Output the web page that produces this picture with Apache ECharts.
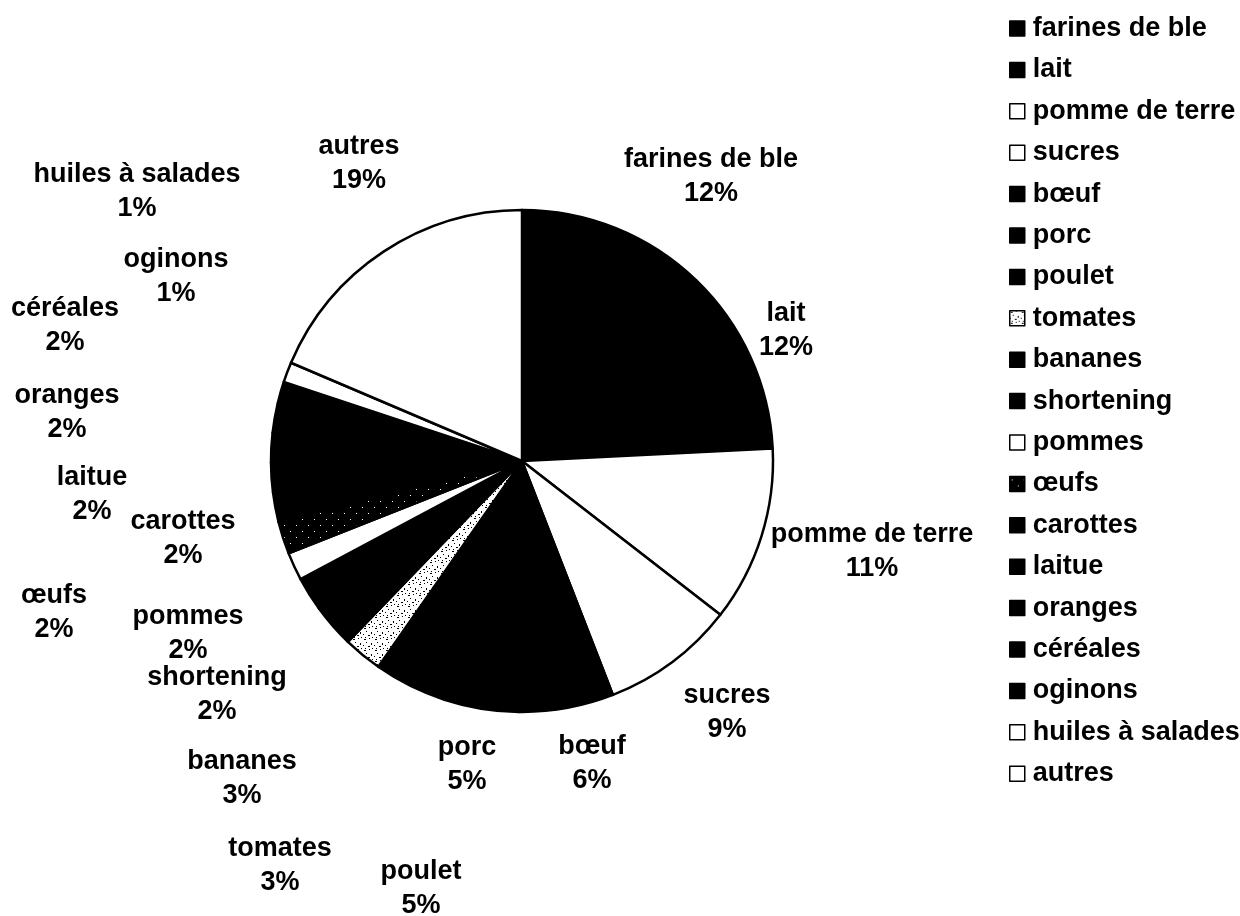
<!DOCTYPE html>
<html>
<head>
<meta charset="utf-8">
<script src="https://cdn.jsdelivr.net/npm/echarts@6/dist/echarts.min.js"></script>
<style>
  html, body { margin: 0; padding: 0; background: #fff; }
  #chart { width: 1240px; height: 916px; }
</style>
</head>
<body>
<div id="chart"></div>
<script>
// Food categories, clockwise from 12 o'clock
const categories = [
  'farines de ble', 'lait', 'pomme de terre', 'sucres', 'bœuf', 'porc', 'poulet',
  'tomates', 'bananes', 'shortening', 'pommes', 'œufs', 'carottes', 'laitue',
  'oranges', 'céréales', 'oginons', 'huiles à salades', 'autres'
];

// Share of the total, in percent
const shares = [
  12.2, 12.0, 11.3, 8.6, 6.1, 4.8, 4.7,
  2.5, 2.8, 2.2, 1.8, 2.1, 1.9, 1.9,
  1.9, 1.9, 1.4, 1.3, 18.6
];

// Fill style for each slice: black, white, or one of the two speckle textures
const fillKinds = [
  'black', 'black', 'white', 'white', 'black', 'black', 'black',
  'lightSpeckle', 'black', 'black', 'white', 'darkSpeckle', 'black', 'black',
  'black', 'black', 'black', 'white', 'white'
];

// Where each two-line label sits (centre of the text block)
const labelSpots = [
  [711, 177], [786, 331], [872, 552], [727, 713], [592, 764], [467, 765], [421, 889],
  [280, 866], [242, 779], [217, 695], [188, 634], [54, 613], [183, 539], [92, 495],
  [67, 413], [65, 326], [176, 277], [137, 192], [359, 164]
];

function speckle(bg, fg, dots, size) {
  const c = document.createElement('canvas');
  c.width = size; c.height = size;
  const ctx = c.getContext('2d');
  ctx.fillStyle = bg;
  ctx.fillRect(0, 0, size, size);
  ctx.fillStyle = fg;
  dots.forEach(function (d) { ctx.fillRect(d[0], d[1], d[2] || 1, d[3] || 1); });
  return { image: c, repeat: 'repeat' };
}

const fills = {
  black: '#000000',
  white: '#ffffff',
  lightSpeckle: speckle('#ffffff', '#000000',
    [[1, 1, 2, 1], [6, 0], [3, 4], [8, 5, 1, 2], [0, 7], [5, 8, 2, 1], [2, 10], [9, 10]], 11),
  darkSpeckle: speckle('#000000', '#ffffff',
    [[2, 3], [8, 9]], 12)
};

const pieData = categories.map(function (name, i) {
  return {
    name: name,
    value: shares[i],
    itemStyle: { color: fills[fillKinds[i]] }
  };
});

const chart = echarts.init(document.getElementById('chart'), null, { renderer: 'canvas' });

const fontFamily = '"Liberation Sans", Arial, Helvetica, sans-serif';

chart.setOption({
  backgroundColor: '#ffffff',
  animation: false,
  legend: {
    orient: 'vertical',
    left: 1004,
    top: 10,
    itemWidth: 15,
    itemHeight: 15,
    itemGap: 14.4,
    icon: 'rect',
    data: categories,
    textStyle: {
      color: '#000',
      fontFamily: fontFamily,
      fontWeight: 'bold',
      fontSize: 27,
      lineHeight: 27,
      padding: [0, 0, 0, 3]
    },
    itemStyle: { borderColor: '#000', borderWidth: 1.5 }
  },
  series: [{
    type: 'pie',
    center: [522, 461],
    radius: 251,
    startAngle: 90,
    clockwise: true,
    avoidLabelOverlap: false,
    data: pieData,
    itemStyle: {
      borderColor: '#000',
      borderWidth: 2.5
    },
    label: {
      show: true,
      position: 'outside',
      formatter: function (p) {
        return p.name + '\n' + Math.round(p.value) + '%';
      },
      color: '#000',
      fontFamily: fontFamily,
      fontWeight: 'bold',
      fontSize: 27,
      lineHeight: 34,
      align: 'center'
    },
    labelLine: { show: false },
    labelLayout: function (params) {
      const spot = labelSpots[params.dataIndex];
      return {
        x: spot[0],
        y: spot[1],
        align: 'center',
        verticalAlign: 'middle',
        hideOverlap: false,
        moveOverlap: null
      };
    },
    emphasis: { disabled: true }
  }]
});
</script>
</body>
</html>
